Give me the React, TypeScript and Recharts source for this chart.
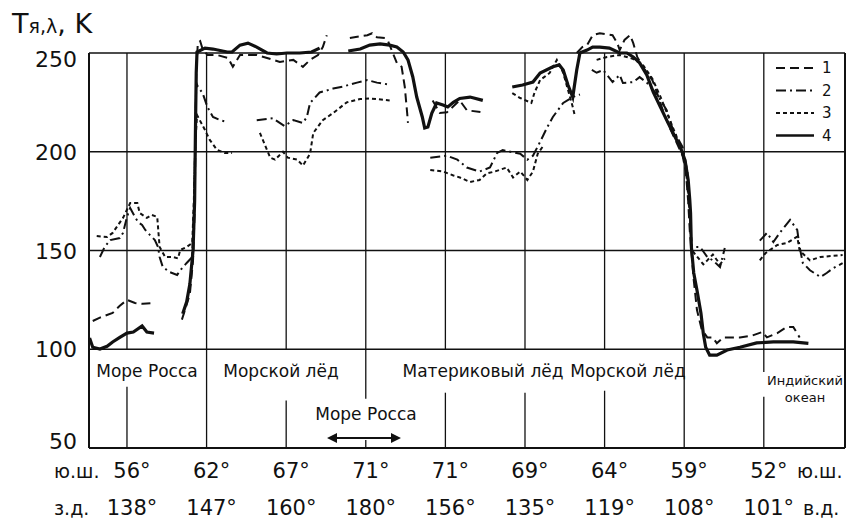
import React from 'react';
import { LineChart, Line, XAxis, YAxis, ReferenceLine } from 'recharts';

// x is the position along the track in grid steps (0 = 56° S / 138° W ... 8 = 52° S / 101° E)
type Pt = { x: number; y: number | null };

const latLabels = ['56°', '62°', '67°', '71°', '71°', '69°', '64°', '59°', '52°'];
const lonLabels = ['138°', '147°', '160°', '180°', '156°', '135°', '119°', '108°', '101°'];
const yTicks = [50, 100, 150, 200, 250];
const xTicks = [0, 1, 2, 3, 4, 5, 6, 7, 8];

const gap = (x: number): Pt => ({ x, y: null });
const pts = (arr: number[][]): Pt[] => arr.map(([x, y]) => ({ x, y }));

const series1: Pt[] = [
  ...pts([[-0.43, 114.3], [-0.34, 116], [-0.18, 118.4], [-0.09, 122], [0, 125], [0.1, 123.4], [0.2, 123], [0.33, 123.4]]),
  gap(0.5),
  ...pts([[0.69, 115], [0.73, 120], [0.79, 128], [0.83, 145], [0.85, 170], [0.86, 205], [0.87, 240], [0.89, 255], [0.92, 256],
    [0.95, 252], [1.01, 249], [1.13, 249], [1.27, 247.5], [1.33, 243], [1.36, 245], [1.42, 249], [1.63, 249], [1.76, 247.5],
    [1.92, 245.5], [2.09, 246.5], [2.21, 243], [2.3, 246.5], [2.4, 249], [2.46, 253], [2.51, 259]]),
  gap(2.65),
  ...pts([[2.8, 257.6], [2.93, 258.5], [3.02, 259], [3.08, 260], [3.14, 258], [3.24, 257.6], [3.28, 256], [3.34, 250],
    [3.39, 245], [3.45, 243], [3.49, 232.8], [3.52, 219.6], [3.53, 214.6]]),
  gap(3.7),
  ...pts([[3.84, 226], [3.93, 219.6], [4.02, 220], [4.18, 226], [4.27, 221], [4.46, 220]]),
  gap(5),
  ...pts([[5.65, 250], [5.72, 253], [5.78, 254], [5.85, 259], [5.94, 260], [6.1, 259], [6.16, 255], [6.19, 251.5], [6.25, 256.6],
    [6.32, 259], [6.36, 255], [6.41, 248], [6.48, 243], [6.6, 236.3], [6.66, 229.7], [6.74, 220], [6.82, 212], [6.9, 205],
    [6.98, 198], [7.02, 190], [7.05, 175], [7.07, 160], [7.09, 150], [7.12, 135], [7.16, 120], [7.22, 110], [7.29, 106],
    [7.36, 106], [7.41, 103], [7.49, 106], [7.7, 106], [7.86, 107], [7.98, 108.7], [8.04, 106], [8.17, 108.2], [8.29, 111.3],
    [8.37, 111.3], [8.45, 106]]),
];

const series2: Pt[] = [
  ...pts([[-0.34, 146.7], [-0.28, 151.8], [-0.21, 155.3], [-0.09, 156.3], [-0.05, 158.9], [0, 167], [0.04, 171.5], [0.1, 167],
    [0.14, 164.4], [0.19, 162.9], [0.23, 160.4], [0.29, 157.8], [0.35, 155.3], [0.39, 151.8], [0.41, 146.7], [0.45, 141.6],
    [0.54, 139], [0.63, 137.6], [0.67, 140], [0.75, 143.7], [0.82, 146.7], [0.84, 170], [0.86, 210], [0.87, 235], [0.89, 233],
    [0.95, 229.7], [1.01, 222.7], [1.08, 217.6], [1.17, 216], [1.27, 215]]),
  gap(1.45),
  ...pts([[1.63, 216], [1.83, 217], [1.98, 213], [2.09, 216], [2.21, 214.6], [2.26, 217.6], [2.3, 224.7], [2.42, 230],
    [2.59, 232], [2.71, 233], [2.89, 235], [3.02, 236.3], [3.14, 235], [3.3, 234]]),
  gap(3.6),
  ...pts([[3.81, 197], [4.02, 198], [4.15, 196], [4.27, 192], [4.43, 190], [4.56, 192], [4.65, 199.4], [4.72, 200.8],
    [4.94, 199], [5.03, 196], [5.1, 198], [5.19, 205], [5.28, 212.5], [5.35, 217.6], [5.48, 224.7], [5.6, 227.7], [5.69, 229]]),
  gap(5.75),
  ...pts([[5.84, 241.4], [5.9, 240], [5.98, 241.4], [6.03, 239], [6.1, 235.3], [6.19, 238.9], [6.23, 234.8], [6.36, 235.3],
    [6.44, 237.8], [6.53, 235], [6.66, 229], [6.78, 221], [6.86, 211], [6.98, 202.4], [7.04, 190], [7.06, 175], [7.08, 160],
    [7.09, 151.8], [7.2, 151.8], [7.29, 146.7], [7.36, 145], [7.45, 141.6], [7.51, 151.3]]),
  gap(7.7),
  ...pts([[7.95, 155], [8.04, 158.9], [8.12, 154.3], [8.2, 158.9], [8.33, 165.5], [8.42, 160.4], [8.45, 151.8], [8.49, 143.7],
    [8.58, 140], [8.71, 136.6], [8.79, 138.6], [8.87, 141], [8.99, 143.6]]),
];

const series3: Pt[] = [
  ...pts([[-0.38, 157.3], [-0.25, 156.8], [-0.18, 158.9], [-0.05, 166.5], [0.04, 174], [0.13, 174], [0.16, 169], [0.25, 166.5],
    [0.31, 168], [0.38, 167], [0.41, 151.8], [0.48, 146.7], [0.58, 146.7], [0.64, 146], [0.67, 150.3], [0.75, 151.8],
    [0.82, 153.8], [0.84, 175], [0.86, 205], [0.88, 218.6], [0.98, 211], [1.04, 206], [1.13, 201], [1.23, 199.4], [1.32, 199.4]]),
  gap(1.5),
  ...pts([[1.67, 209.5], [1.8, 197], [1.86, 196], [1.96, 200], [2.02, 197], [2.14, 196], [2.21, 193], [2.3, 199], [2.34, 209.5],
    [2.46, 216], [2.59, 219.6], [2.76, 225], [2.93, 226.7], [3.05, 227], [3.3, 226]]),
  gap(3.6),
  ...pts([[3.81, 190.8], [3.97, 190], [4.1, 188], [4.18, 187], [4.31, 184.7], [4.43, 185.7], [4.52, 189], [4.62, 190],
    [4.77, 192], [4.85, 187], [4.94, 190], [5.03, 185.7], [5.1, 190], [5.16, 199], [5.23, 203]]),
  gap(5.3),
  ...pts([[4.84, 229.7], [4.94, 227.2], [5.08, 224.7], [5.12, 230], [5.19, 236.3], [5.31, 239.9], [5.4, 246.5], [5.48, 240],
    [5.6, 222.7], [5.63, 217.6]]),
  gap(5.75),
  ...pts([[5.9, 246.5], [6.03, 248], [6.19, 249], [6.36, 247], [6.48, 244], [6.6, 237], [6.7, 228], [6.82, 216], [6.95, 203],
    [7.02, 192], [7.05, 178], [7.08, 162], [7.1, 150], [7.16, 147], [7.24, 143], [7.29, 145], [7.36, 148], [7.45, 143], [7.51, 146]]),
  gap(7.7),
  ...pts([[7.95, 145], [8.02, 148.6], [8.17, 152.8], [8.29, 153.8], [8.42, 157], [8.45, 150], [8.58, 145], [8.71, 146.7],
    [8.99, 147.7]]),
];

const series4: Pt[] = [
  ...pts([[-0.47, 105.7], [-0.43, 101], [-0.34, 100.1], [-0.25, 101.5], [-0.18, 103.7], [-0.09, 106], [0, 108.2], [0.08, 108.7],
    [0.19, 111.8], [0.25, 108.7], [0.34, 108.2]]),
  gap(0.5),
  ...pts([[0.7, 118], [0.75, 124], [0.79, 133], [0.83, 150], [0.85, 175], [0.86, 210], [0.87, 240], [0.88, 250.5], [0.98, 252.5],
    [1.08, 252], [1.26, 250.5], [1.32, 250.5], [1.42, 254], [1.52, 255], [1.63, 253], [1.76, 250], [1.88, 249.5], [2.01, 250],
    [2.17, 250], [2.32, 250.5], [2.42, 252.5]]),
  gap(2.6),
  ...pts([[2.78, 251], [2.93, 252], [3.05, 254], [3.18, 254.6], [3.3, 254], [3.39, 253], [3.47, 250.5], [3.53, 246.5],
    [3.59, 238], [3.64, 227.7], [3.71, 217.6], [3.74, 212], [3.78, 212.5], [3.83, 219.6], [3.89, 224.7], [3.97, 223.7],
    [4.03, 222.7], [4.1, 225], [4.18, 227], [4.31, 227.7], [4.47, 226]]),
  gap(4.6),
  ...pts([[4.84, 232.8], [4.97, 233.8], [5.1, 235.3], [5.19, 239.9], [5.35, 243], [5.43, 244], [5.48, 241.4], [5.54, 233.8],
    [5.6, 227.7], [5.65, 241.4], [5.69, 250], [5.78, 251.5], [5.85, 253], [5.94, 253], [6.06, 252.5], [6.19, 250], [6.28, 250],
    [6.36, 248], [6.44, 245], [6.53, 238.9], [6.61, 230.3], [6.7, 222.7], [6.78, 216], [6.86, 209.5], [6.95, 202.4],
    [7.01, 195.8], [7.05, 185.7], [7.07, 175.6], [7.08, 169], [7.09, 151.8], [7.12, 138.6], [7.16, 130], [7.21, 118.4],
    [7.24, 108], [7.27, 101], [7.32, 97], [7.41, 97], [7.54, 99.6], [7.7, 101], [7.91, 103.2], [8.12, 103.7], [8.37, 103.7],
    [8.56, 103]]),
];

// vertical grid pieces in the lower (label) band: [x, yFrom, yTo]
const lowerGrid = [
  [0, 50, 81], [1, 50, 100], [2, 50, 74], [3, 75, 100], [3, 50, 54], [4, 50, 78], [5, 50, 78],
  [6, 50, 79], [7, 50, 100], [8, 50, 76], [8, 88.5, 100],
];

const styles = [
  { key: '1', data: series1, dash: '9 5', width: 2 },
  { key: '2', data: series2, dash: '10 4 2 4', width: 2 },
  { key: '3', data: series3, dash: '4 3', width: 2 },
  { key: '4', data: series4, dash: undefined, width: 3.2 },
];

const FONT = '"DejaVu Sans", sans-serif';
const INK = '#111';
const X_MIN = -0.477;
const X_MAX = 9.02;
// headroom above 250 K so the curves that overshoot the frame are not cut
const Y_DOMAIN = [50, 270];

const YTick = (props: any) => {
  const { x, y, payload } = props;
  const shift = payload.value === 250 ? 6 : payload.value === 50 ? -7 : 0;
  return (
    <text x={x - 12} y={y + shift} dy={8} textAnchor="end" fontSize={22} fontFamily={FONT} fill={INK}>
      {payload.value}
    </text>
  );
};

const XTick = (props: any) => {
  const { x, y, payload } = props;
  const i = payload.value as number;
  return (
    <g fontFamily={FONT} fill={INK}>
      <text x={x + 5} y={y + 30} textAnchor="middle" fontSize={21}>{latLabels[i]}</text>
      <text x={x + 5} y={y + 67} textAnchor="middle" fontSize={21}>{lonLabels[i]}</text>
    </g>
  );
};

export default function App() {
  return (
    <div style={{ position: 'absolute', left: 0, top: 0, width: 854, height: 523, background: '#fff' }}>
      <LineChart width={854} height={523} margin={{ top: 13.5, right: 9, left: 29, bottom: 15 }}>
        <XAxis dataKey="x" type="number" domain={[X_MIN, X_MAX]} ticks={xTicks}
          height={60} tickLine={false} tickSize={0} tickMargin={0} tick={<XTick />} interval={0}
          axisLine={{ stroke: INK, strokeWidth: 2 }} />
        <YAxis type="number" domain={Y_DOMAIN} ticks={yTicks} width={60} tickLine={false} tickSize={0}
          tickMargin={0} tick={<YTick />} axisLine={false} />
        {yTicks.slice(1).map(v => (
          <ReferenceLine key={`h${v}`} segment={[{ x: X_MIN, y: v }, { x: X_MAX, y: v }]} stroke={INK} strokeWidth={1.3} />
        ))}
        {xTicks.map(k => (
          <ReferenceLine key={`v${k}`} segment={[{ x: k, y: 100 }, { x: k, y: 250 }]} stroke={INK} strokeWidth={1.3} />
        ))}
        {lowerGrid.map(([k, a, b], i) => (
          <ReferenceLine key={`l${i}`} segment={[{ x: k, y: a }, { x: k, y: b }]} stroke={INK} strokeWidth={1.3} />
        ))}
        <ReferenceLine segment={[{ x: X_MIN, y: 50 }, { x: X_MIN, y: 250 }]} stroke={INK} strokeWidth={2} />
        <ReferenceLine segment={[{ x: X_MAX, y: 50 }, { x: X_MAX, y: 250 }]} stroke={INK} strokeWidth={2} />
        {styles.map(s => (
          <Line key={s.key} data={s.data} dataKey="y" type="linear" stroke={INK} strokeWidth={s.width}
            strokeDasharray={s.dash} dot={false} connectNulls={false} isAnimationActive={false} />
        ))}
      </LineChart>
      <svg width={854} height={523} style={{ position: 'absolute', left: 0, top: 0, pointerEvents: 'none' }}
        fontFamily={FONT} fill={INK}>
        <text x={12} y={33} fill={INK}>
          <tspan fontSize={27}>T</tspan>
          <tspan fontSize={19}>я,λ</tspan>
          <tspan fontSize={27}>, K</tspan>
        </text>
        {/* legend */}
        {styles.map((s, i) => (
          <g key={s.key}>
            <line x1={776} x2={814} y1={68 + i * 22.5} y2={68 + i * 22.5} stroke={INK}
              strokeWidth={s.width > 2 ? 2.6 : 2} strokeDasharray={s.dash} />
            <text x={822} y={73 + i * 22.5} fontSize={15}>{s.key}</text>
          </g>
        ))}
        <text x={147} y={377} fontSize={17} textAnchor="middle">Море Росса</text>
        <text x={281} y={377} fontSize={17} textAnchor="middle">Морской лёд</text>
        <text x={483} y={377} fontSize={17} textAnchor="middle">Материковый лёд</text>
        <text x={628} y={377} fontSize={17} textAnchor="middle">Морской лёд</text>
        <text x={805} y={385} fontSize={13} textAnchor="middle">Индийский</text>
        <text x={805} y={402} fontSize={13} textAnchor="middle">океан</text>
        <text x={366} y={420} fontSize={17} textAnchor="middle">Море Росса</text>
        <line x1={332} x2={396} y1={438} y2={438} stroke={INK} strokeWidth={2} />
        <path d="M327,438 L337,433 L337,443 Z M401,438 L391,433 L391,443 Z" fill={INK} />
        <text x={54} y={478} fontSize={19}>ю.ш.</text>
        <text x={54} y={515} fontSize={19}>з.д.</text>
        <text x={797} y={478} fontSize={19}>ю.ш.</text>
        <text x={803} y={515} fontSize={19}>в.д.</text>
      </svg>
    </div>
  );
}
